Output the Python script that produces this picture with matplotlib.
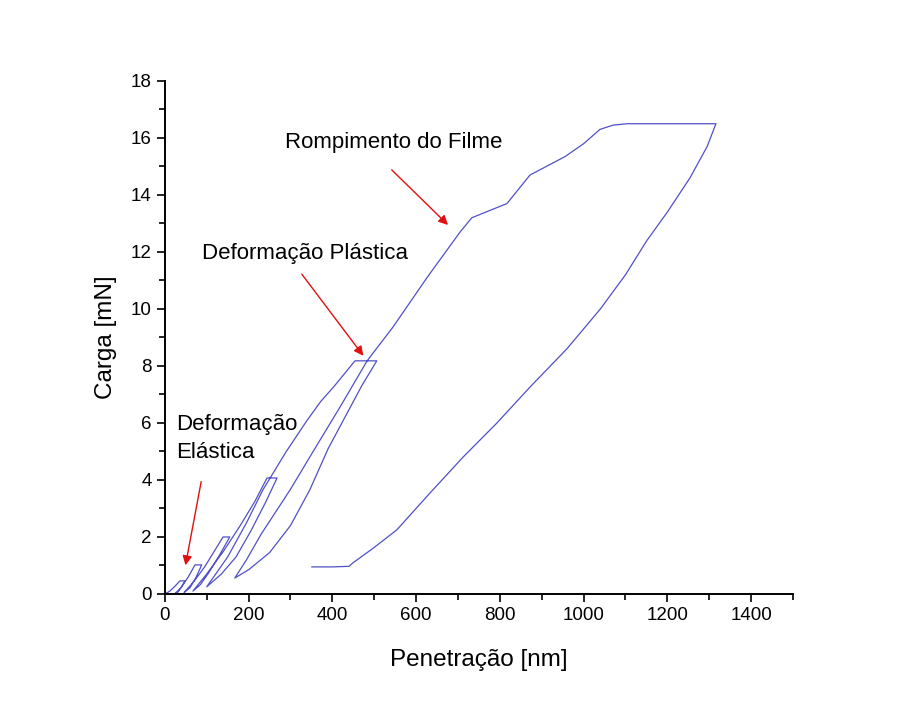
import matplotlib
matplotlib.use("Agg")
import matplotlib.pyplot as plt
from matplotlib.ticker import MultipleLocator

plt.rcParams['font.family'] = ['Liberation Sans', 'DejaVu Sans']

# load-hold-unload cycles (penetration nm, load mN)
c1_x = [0, 12, 24, 36, 48, 40, 32, 25]
c1_y = [0, 0.1, 0.27, 0.46, 0.46, 0.25, 0.08, 0.02]

c2_x = [25, 40, 56, 72, 88, 75, 60, 46]
c2_y = [0.02, 0.25, 0.6, 1.02, 1.02, 0.6, 0.22, 0.05]

c3_x = [46, 70, 95, 118, 139, 155, 130, 105, 85, 67]
c3_y = [0.05, 0.45, 0.95, 1.5, 2.0, 2.0, 1.35, 0.75, 0.33, 0.1]

c4_x = [67, 100, 140, 180, 215, 244, 268, 240, 205, 170, 135, 100]
c4_y = [0.1, 0.7, 1.5, 2.4, 3.25, 4.07, 4.07, 3.2, 2.2, 1.3, 0.7, 0.25]

c5_x = [100, 150, 195, 234, 290, 340, 372, 405, 454, 506, 470, 430, 390, 346, 300, 250, 200, 167]
c5_y = [0.25, 1.3, 2.5, 3.65, 5.0, 6.1, 6.75, 7.3, 8.18, 8.18, 7.3, 6.2, 5.1, 3.65, 2.4, 1.45, 0.85, 0.56]

c6_load_x = [167, 195, 230, 299, 350, 420, 483, 545, 626, 705, 733, 817, 872, 956, 1000, 1039, 1070, 1104]
c6_load_y = [0.56, 1.2, 2.1, 3.65, 4.9, 6.6, 8.18, 9.37, 11.1, 12.7, 13.2, 13.7, 14.7, 15.35, 15.8, 16.3, 16.45, 16.5]

c6_unload_x = [1104, 1316, 1295, 1254, 1200, 1151, 1100, 1040, 960, 872, 793, 712, 633, 554, 497, 449, 440, 400, 351]
c6_unload_y = [16.5, 16.5, 15.7, 14.6, 13.4, 12.4, 11.2, 10.0, 8.6, 7.26, 6.0, 4.8, 3.54, 2.25, 1.6, 1.09, 0.97, 0.95, 0.95]

pen = c1_x + c2_x + c3_x + c4_x + c5_x + c6_load_x + c6_unload_x
carga = c1_y + c2_y + c3_y + c4_y + c5_y + c6_load_y + c6_unload_y

fig = plt.figure(figsize=(9.21, 7.11), dpi=100)
ax = fig.add_axes([0.179, 0.1646, 0.682, 0.7215])

ax.plot(pen, carga, color='#5050c8', lw=0.9)

ax.set_xlim(0, 1500)
ax.set_ylim(0, 18)
ax.xaxis.set_major_locator(MultipleLocator(200))
ax.xaxis.set_minor_locator(MultipleLocator(100))
ax.yaxis.set_major_locator(MultipleLocator(2))
ax.yaxis.set_minor_locator(MultipleLocator(1))
ax.tick_params(which='major', direction='out', length=6, width=1.2, labelsize=13.5)
ax.tick_params(which='minor', direction='out', length=4, width=1.2)
ax.spines['top'].set_visible(False)
ax.spines['right'].set_visible(False)
ax.spines['left'].set_linewidth(1.4)
ax.spines['bottom'].set_linewidth(1.4)

ax.set_xlabel("Penetração [nm]", fontsize=17.5, labelpad=18)
ax.set_ylabel("Carga [mN]", fontsize=17.5, labelpad=10)

arrow = dict(arrowstyle='-|>', color='#e01010', lw=1.0, mutation_scale=14)
ax.annotate("Rompimento do Filme", xy=(681, 12.88), xytext=(287, 15.85),
            fontsize=16, va='center', ha='left')
ax.annotate("", xy=(681, 12.88), xytext=(537, 14.95), arrowprops=arrow)
ax.annotate("Deformação Plástica", xy=(478, 8.28), xytext=(88, 11.93),
            fontsize=16, va='center', ha='left')
ax.annotate("", xy=(478, 8.28), xytext=(323, 11.3), arrowprops=arrow)
ax.text(26, 5.93, "Deformação", fontsize=16, va='center', ha='left')
ax.text(26, 4.98, "Elástica", fontsize=16, va='center', ha='left')
ax.annotate("", xy=(48, 0.91), xytext=(88, 4.04), arrowprops=arrow)

plt.savefig("out.png", dpi=100)
